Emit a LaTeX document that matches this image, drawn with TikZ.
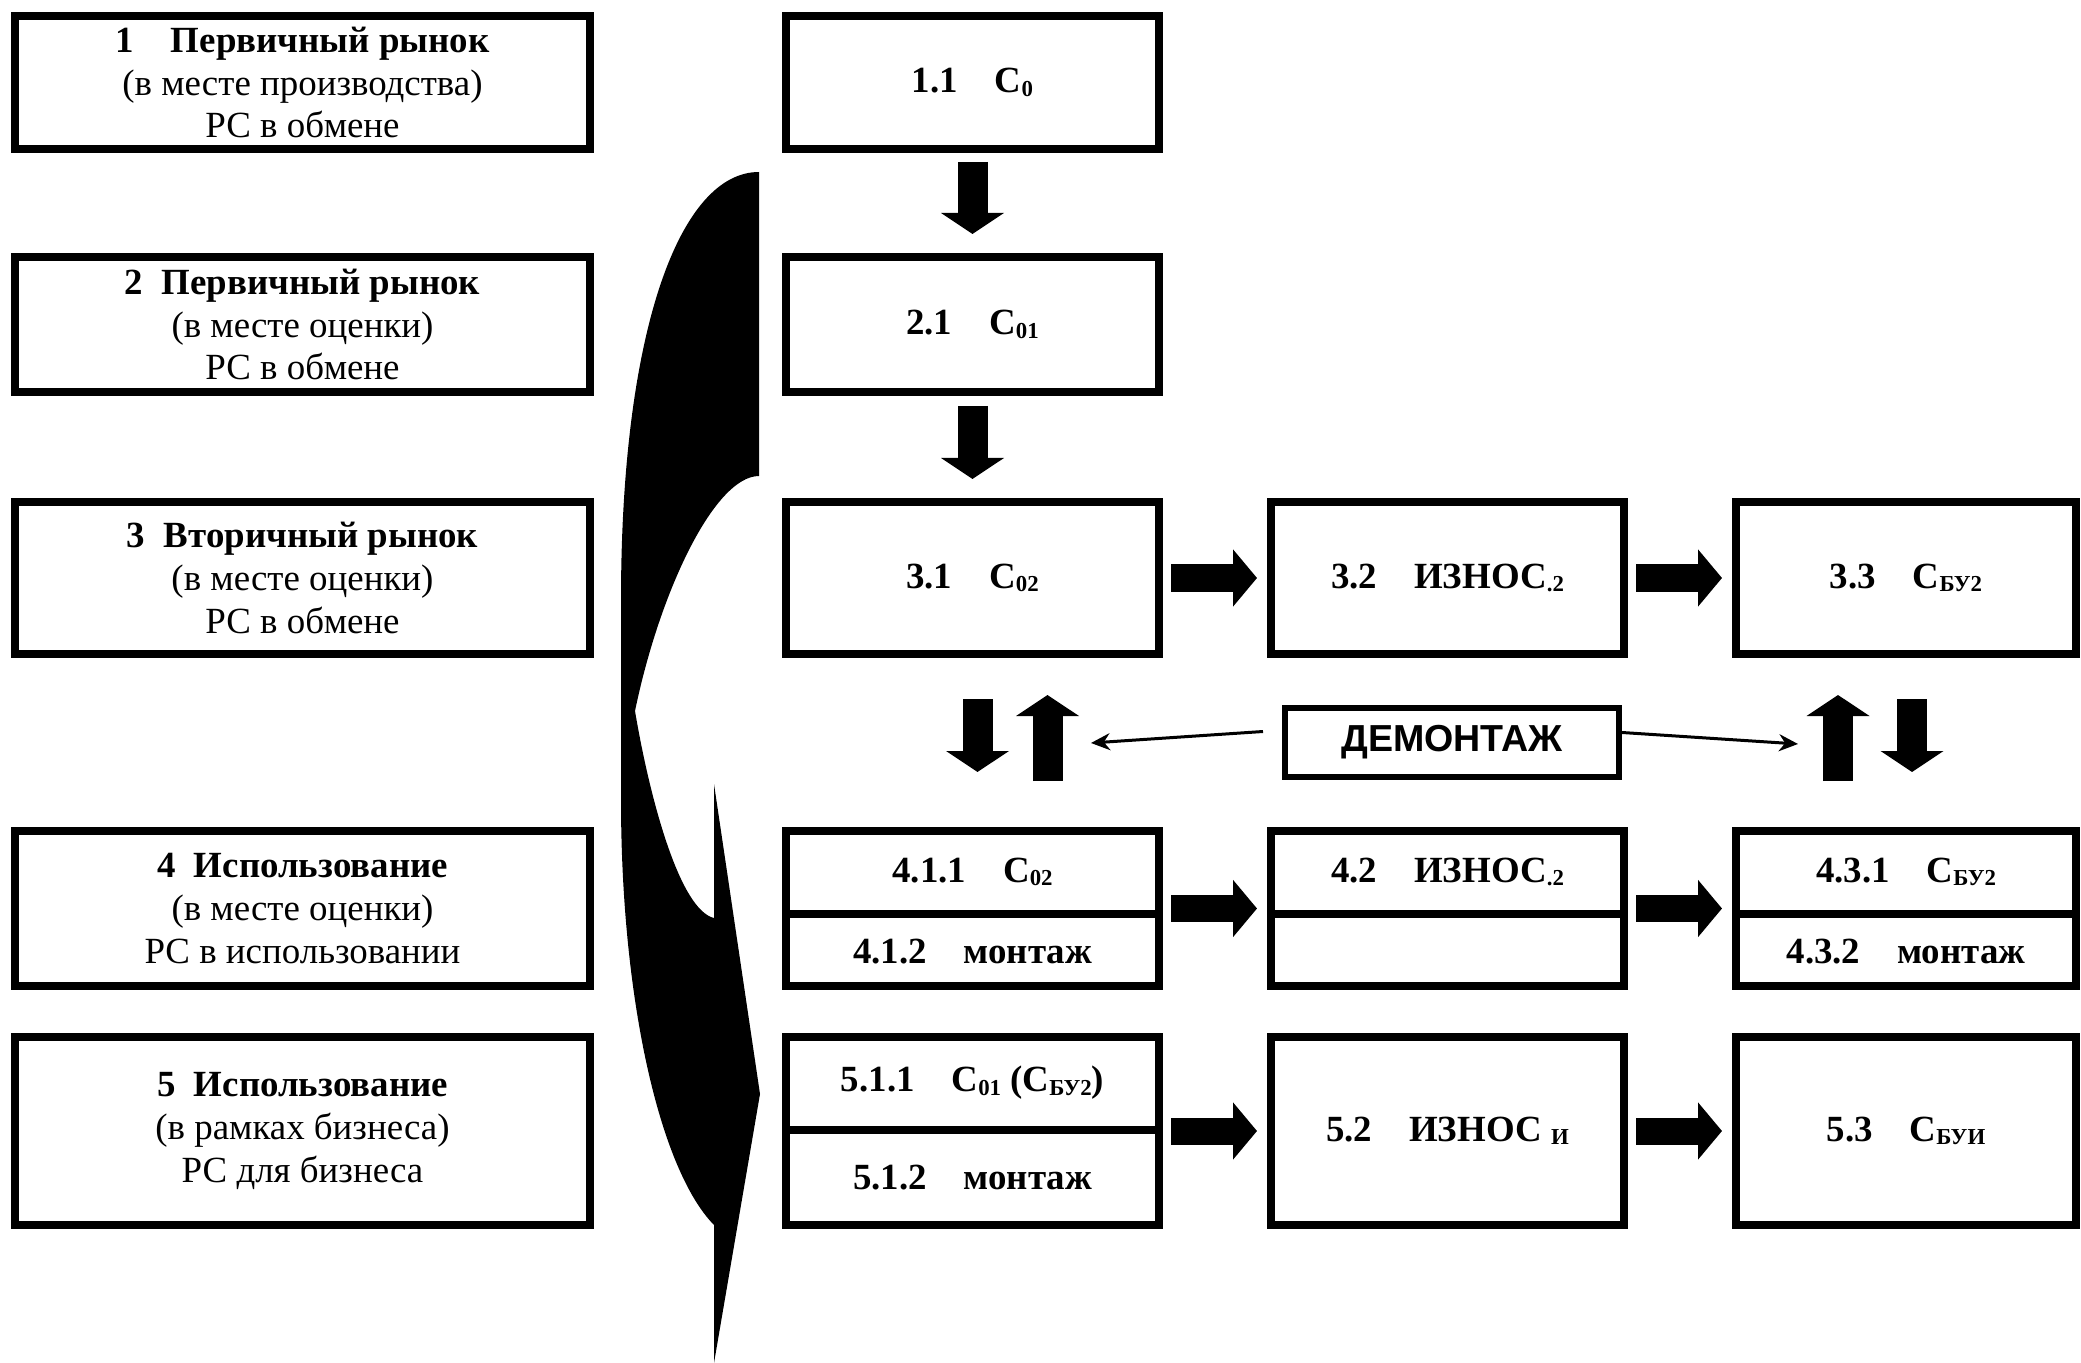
\documentclass[tikz,border=0pt]{standalone}
\usepackage{fontspec}
\setmainfont{Liberation Serif}
\newfontfamily\arialfont{Liberation Sans}
\usetikzlibrary{arrows.meta}
\newcommand{\lowidx}[1]{\raisebox{-0.2ex}{\fontsize{6.5pt}{7pt}\selectfont #1}}

\begin{document}
\begin{tikzpicture}[x=1cm,y=1cm,
    every node/.style={font=\fontsize{10.5}{12.2}\selectfont},
    stage/.style={draw,line width=0.8mm,inner sep=0pt,align=center},
    side/.style={stage,minimum width=5.75cm},
    colA/.style={stage,minimum width=3.73cm},
    colB/.style={stage,minimum width=3.53cm},
    colC/.style={stage,minimum width=3.40cm},
    cell/.style={font=\fontsize{10.5}{12.2}\selectfont\bfseries},
    vblk/.style={line width=0.30cm,-{Triangle[length=0.21cm,width=0.62cm]}},
    hblk/.style={line width=0.27cm,-{Triangle[length=0.24cm,width=0.56cm]},
      shorten <=0.08cm,shorten >=0.10cm},
    thin/.style={line width=0.03cm,-{Stealth[length=0.19cm,width=0.17cm]}}]
  \useasboundingbox (0,0) rectangle (20.81,-13.63);

  % left column
  \node[side,minimum height=1.33cm] (n1) at (3.025,-0.825)
    {{\bfseries 1\quad Первичный рынок}\\(в месте производства)\\РС в обмене};
  \node[side,minimum height=1.35cm] (n2) at (3.025,-3.245)
    {{\bfseries 2\enspace Первичный рынок}\\(в месте оценки)\\РС в обмене};
  \node[side,minimum height=1.52cm] (n3) at (3.025,-5.78)
    {{\bfseries 3\enspace Вторичный рынок}\\(в месте оценки)\\РС в обмене};
  \node[side,minimum height=1.55cm] (n4) at (3.025,-9.085)
    {{\bfseries 4\enspace Использование}\\(в месте оценки)\\РС в использовании};
  \node[side,minimum height=1.88cm] (n5) at (3.025,-11.31)
    {{\bfseries 5\enspace Использование}\\(в рамках бизнеса)\\РС для бизнеса};

  % curved arrow
  \fill (7.59,-1.72) -- (7.59,-4.76)
    .. controls (7.15,-4.76) and (6.60,-5.90) .. (6.35,-7.11)
    .. controls (6.50,-8.00) and (6.80,-9.10) .. (7.14,-9.18)
    -- (7.14,-7.84) -- (7.60,-10.94) -- (7.14,-13.63) -- (7.14,-12.25)
    .. controls (6.60,-11.70) and (6.21,-10.00) .. (6.21,-8.00)
    -- (6.21,-6.00)
    .. controls (6.21,-3.30) and (6.80,-1.72) .. (7.59,-1.72) -- cycle;

  % rows 1-3
  \node[colA,cell,minimum height=1.33cm] (n11) at (9.725,-0.825) {1.1\quad С\lowidx{0}};
  \node[colA,cell,minimum height=1.35cm] (n21) at (9.725,-3.245) {2.1\quad С\lowidx{01}};
  \node[colA,cell,minimum height=1.52cm] (n31) at (9.725,-5.78) {3.1\quad С\lowidx{02}};
  \node[colB,cell,minimum height=1.52cm] (n32) at (14.475,-5.78) {3.2\quad ИЗНОС\lowidx{.2}};
  \node[colC,cell,minimum height=1.52cm] (n33) at (19.06,-5.78) {3.3\quad С\lowidx{БУ2}};

  % row 4
  \coordinate (cut4) at (0,-9.14);
  \node[colA,minimum height=1.55cm] (n41) at (9.725,-9.085) {};
  \node[colB,minimum height=1.55cm] (n42) at (14.475,-9.085) {};
  \node[colC,minimum height=1.55cm] (n43) at (19.06,-9.085) {};
  \draw[line width=0.8mm] (n41.west |- cut4) -- (n41.east |- cut4);
  \draw[line width=0.8mm] (n42.west |- cut4) -- (n42.east |- cut4);
  \draw[line width=0.8mm] (n43.west |- cut4) -- (n43.east |- cut4);
  \node[cell] (n41a) at (9.725,-8.72) {4.1.1\quad С\lowidx{02}};
  \node[cell] (n41b) at (9.725,-9.52) {4.1.2\quad монтаж};
  \node[cell] (n42a) at (14.475,-8.72) {4.2\quad ИЗНОС\lowidx{.2}};
  \node[cell] (n43a) at (19.06,-8.72) {4.3.1\quad С\lowidx{БУ2}};
  \node[cell] (n43b) at (19.06,-9.52) {4.3.2\quad монтаж};

  % row 5
  \coordinate (cut5) at (0,-11.30);
  \node[colA,minimum height=1.88cm] (n51) at (9.725,-11.31) {};
  \draw[line width=0.8mm] (n51.west |- cut5) -- (n51.east |- cut5);
  \node[cell] (n51a) at (9.725,-10.83) {5.1.1\quad С\lowidx{01} (С\lowidx{БУ2})};
  \node[cell] (n51b) at (9.725,-11.78) {5.1.2\quad монтаж};
  \node[colB,cell,minimum height=1.88cm] (n52) at (14.475,-11.31) {5.2\quad ИЗНОС \lowidx{И}};
  \node[colC,cell,minimum height=1.88cm] (n53) at (19.06,-11.31) {5.3\quad С\lowidx{БУИ}};

  % dismantling
  \node[draw,line width=0.6mm,minimum width=3.34cm,minimum height=0.69cm,
    font=\arialfont\fontsize{10.7}{12}\selectfont\bfseries] (dem) at (14.52,-7.425) {ДЕМОНТАЖ};
  \coordinate (demL) at (10.91,-7.43);
  \coordinate (demR) at (17.98,-7.44);
  \draw[thin] ([xshift=-0.19cm,yshift=0.11cm]dem.west) -- (demL);
  \draw[thin] ([yshift=0.10cm]dem.east) -- (demR);

  % block arrows
  \draw[vblk,shorten <=0.09cm,shorten >=0.19cm] (n11) -- (n21);
  \draw[vblk,shorten <=0.10cm,shorten >=0.19cm] (n21) -- (n31);
  \draw[vblk,shorten <=0.41cm,shorten >=0.55cm] ([xshift=0.05cm]n31.south) -- ([xshift=0.05cm]n41.north);
  \draw[vblk,shorten <=0.46cm,shorten >=0.37cm] ([xshift=0.75cm]n41.north) -- ([xshift=0.75cm]n31.south);
  \draw[vblk,shorten <=0.46cm,shorten >=0.37cm] ([xshift=-0.68cm]n43.north) -- ([xshift=-0.68cm]n33.south);
  \draw[vblk,shorten <=0.41cm,shorten >=0.55cm] ([xshift=0.06cm]n33.south) -- ([xshift=0.06cm]n43.north);
  \draw[hblk] (n31) -- (n32);
  \draw[hblk] (n32) -- (n33);
  \draw[hblk] (n41) -- (n42);
  \draw[hblk] (n42) -- (n43);
  \draw[hblk] (n51) -- (n52);
  \draw[hblk] (n52) -- (n53);
\end{tikzpicture}
\end{document}
